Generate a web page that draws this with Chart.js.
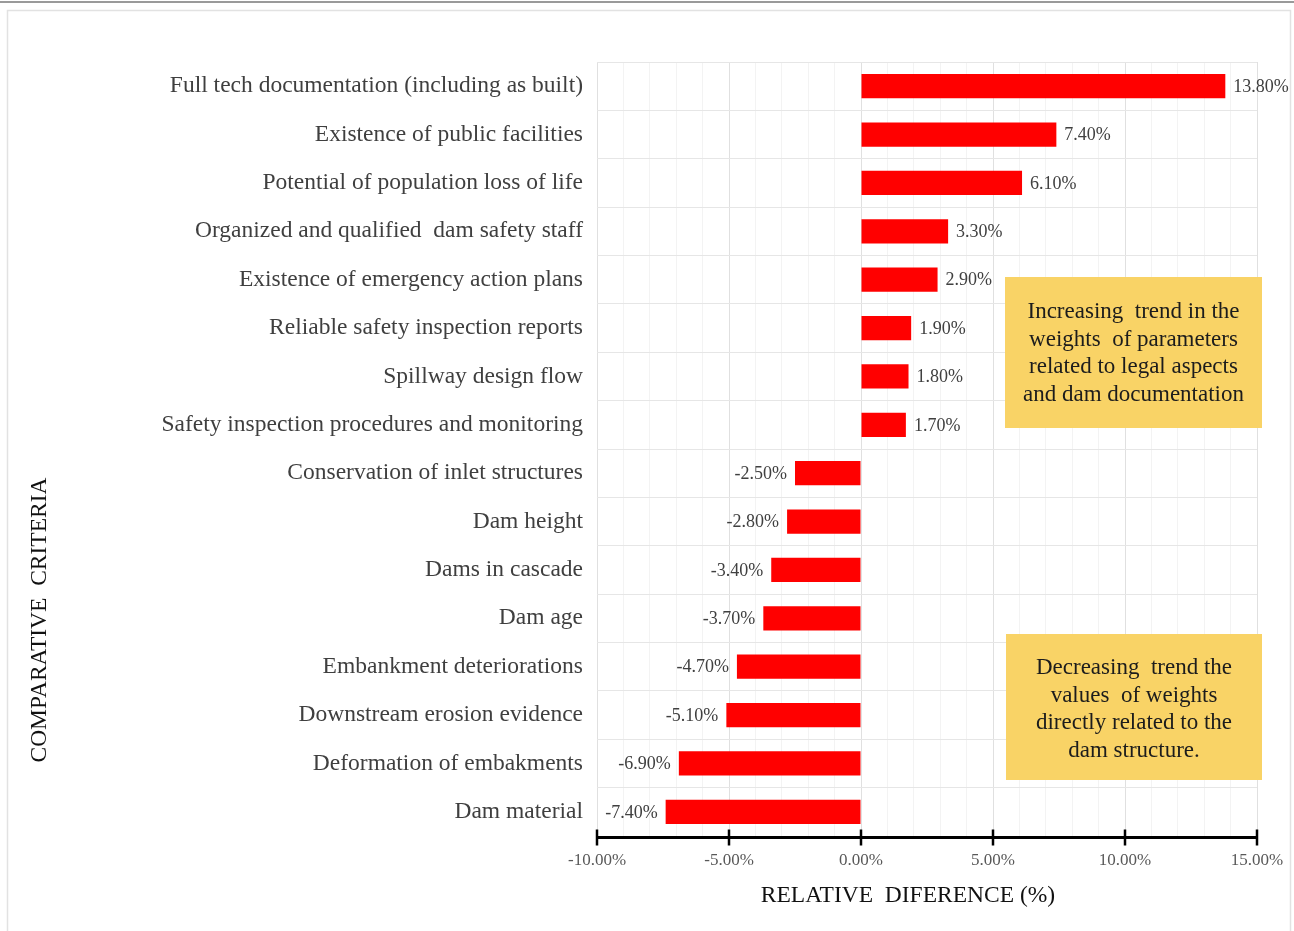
<!DOCTYPE html>
<html>
<head>
<meta charset="utf-8">
<script src="https://cdn.jsdelivr.net/npm/chart.js@4/dist/chart.umd.min.js"></script>
<style>
html,body{margin:0;padding:0;background:#fff;}
#wrap{width:1294px;height:931px;position:relative;}
</style>
</head>
<body>
<div id="wrap"><canvas id="c" width="1294" height="931"></canvas></div>
<script>
const categories = [
  "Full tech documentation (including as built)",
  "Existence of public facilities",
  "Potential of population loss of life",
  "Organized and qualified  dam safety staff",
  "Existence of emergency action plans",
  "Reliable safety inspection reports",
  "Spillway design flow",
  "Safety inspection procedures and monitoring",
  "Conservation of inlet structures",
  "Dam height",
  "Dams in cascade",
  "Dam age",
  "Embankment deteriorations",
  "Downstream erosion evidence",
  "Deformation of embakments",
  "Dam material"
];
const relativeDifference = [13.8, 7.4, 6.1, 3.3, 2.9, 1.9, 1.8, 1.7, -2.5, -2.8, -3.4, -3.7, -4.7, -5.1, -6.9, -7.4];
const xMin = -10, xMax = 15, majorStep = 5, minorStep = 1;
const xTitle = "RELATIVE  DIFERENCE (%)";
const yTitle = "COMPARATIVE  CRITERIA";
const noteUp = ["Increasing  trend in the", "weights  of parameters", "related to legal aspects", "and dam documentation"];
const noteDown = ["Decreasing  trend the", "values  of weights", "directly related to the", "dam structure."];

const SERIF = '"Liberation Serif", "Times New Roman", serif';

const decorPlugin = {
  id: 'decor',
  beforeDraw(chart) {
    const ctx = chart.ctx;
    ctx.save();
    ctx.fillStyle = '#fff';
    ctx.fillRect(0, 0, chart.width, chart.height);
    ctx.strokeStyle = '#9a9a9a';
    ctx.lineWidth = 2;
    ctx.beginPath(); ctx.moveTo(0, 2); ctx.lineTo(chart.width, 2); ctx.stroke();
    ctx.strokeStyle = '#e2e2e2';
    ctx.lineWidth = 1.5;
    ctx.beginPath();
    ctx.moveTo(7.5, chart.height); ctx.lineTo(7.5, 10.5); ctx.lineTo(1290.5, 10.5); ctx.lineTo(1290.5, chart.height);
    ctx.stroke();
    ctx.restore();
  },
  afterDraw(chart) {
    const ctx = chart.ctx;
    const xs = chart.scales.x, area = chart.chartArea;
    ctx.save();
    // axis line & major tick marks
    const yAx = area.bottom + 1.5;
    ctx.strokeStyle = '#000';
    ctx.lineWidth = 3;
    ctx.beginPath();
    ctx.moveTo(xs.getPixelForValue(xMin) - 1, yAx);
    ctx.lineTo(xs.getPixelForValue(xMax) + 1, yAx);
    ctx.stroke();
    ctx.lineWidth = 2.5;
    for (let v = xMin; v <= xMax; v += majorStep) {
      const px = Math.round(xs.getPixelForValue(v));
      ctx.beginPath(); ctx.moveTo(px, yAx - 8); ctx.lineTo(px, yAx + 8); ctx.stroke();
    }
    // data labels
    const meta = chart.getDatasetMeta(0);
    ctx.font = '18px ' + SERIF;
    ctx.fillStyle = '#404040';
    ctx.textBaseline = 'middle';
    meta.data.forEach((bar, i) => {
      const v = relativeDifference[i];
      const txt = v.toFixed(2) + '%';
      if (v >= 0) { ctx.textAlign = 'left'; ctx.fillText(txt, bar.x + 8, bar.y + 1); }
      else { ctx.textAlign = 'right'; ctx.fillText(txt, bar.x - 8, bar.y + 1); }
    });
    // notes
    function note(x0, y0, w, h, lines, firstY) {
      ctx.fillStyle = '#F9D366';
      ctx.fillRect(x0, y0, w, h);
      ctx.fillStyle = '#1c1c1c';
      ctx.font = '23px ' + SERIF;
      ctx.textAlign = 'center';
      ctx.textBaseline = 'middle';
      lines.forEach((l, k) => ctx.fillText(l, x0 + w / 2, firstY + k * 27.5));
    }
    note(1005, 277, 257, 151, noteUp, 312);
    note(1006, 634, 256, 146, noteDown, 668);
    // axis titles
    ctx.fillStyle = '#111';
    ctx.font = '23.5px ' + SERIF;
    ctx.textAlign = 'center';
    ctx.textBaseline = 'middle';
    ctx.fillText(xTitle, 908, 896);
    ctx.translate(40, 620);
    ctx.rotate(-Math.PI / 2);
    ctx.fillText(yTitle, 0, 0);
    ctx.restore();
  }
};

new Chart(document.getElementById('c'), {
  type: 'bar',
  data: {
    labels: categories,
    datasets: [{
      data: relativeDifference,
      backgroundColor: '#FF0000',
      borderWidth: 0,
      barPercentage: 0.5,
      categoryPercentage: 1.0
    }]
  },
  options: {
    indexAxis: 'y',
    responsive: false,
    animation: false,
    devicePixelRatio: 1,
    layout: { padding: { top: 62, right: 37, left: 0, bottom: 0 } },
    plugins: { legend: { display: false }, tooltip: { enabled: false } },
    scales: {
      x: {
        min: xMin, max: xMax,
        afterFit(s) { s.height = 95; s.paddingLeft = 0; s.paddingRight = 0; },
        border: { display: false },
        grid: {
          drawTicks: false,
          color: c => (c.tick && Math.round(c.tick.value) % majorStep === 0) ? '#e0e0e0' : '#f3f3f3',
          lineWidth: 1
        },
        ticks: {
          stepSize: minorStep,
          autoSkip: false,
          maxRotation: 0,
          padding: 14,
          color: '#595959',
          font: { family: SERIF, size: 17 },
          callback: v => (Math.round(v) % majorStep === 0) ? Number(v).toFixed(2) + '%' : ''
        }
      },
      y: {
        afterFit(s) { s.width = 597; },
        border: { display: false },
        grid: { offset: true, drawTicks: false, color: '#e6e6e6' },
        ticks: {
          padding: 14,
          color: '#3f3f3f',
          font: { family: SERIF, size: 23.5 }
        }
      }
    }
  },
  plugins: [decorPlugin]
});
</script>
</body>
</html>
